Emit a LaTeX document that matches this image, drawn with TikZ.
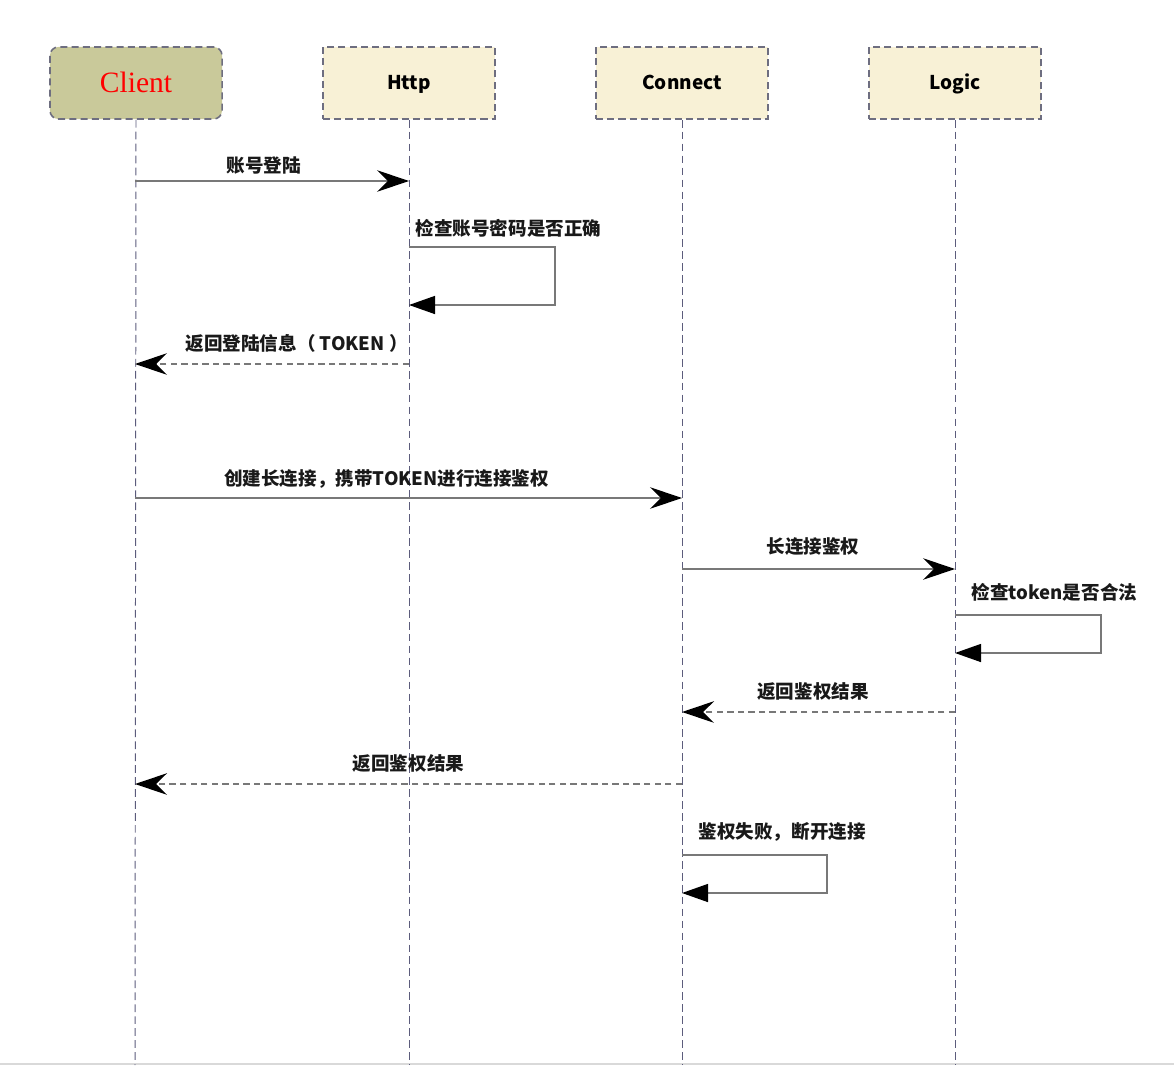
\documentclass[tikz,border=0pt]{standalone}
\usepackage{fontspec}
\setmainfont{Noto Sans CJK SC}
\newfontfamily\clientfont{Liberation Serif}
\usepackage{tikz}
\usetikzlibrary{arrows.meta,positioning,calc}
\definecolor{boxline}{HTML}{6E6E80}
\definecolor{lifeline}{HTML}{5C5C7C}
\definecolor{msgline}{HTML}{787878}
\definecolor{clientfill}{HTML}{C9C99A}
\definecolor{partfill}{HTML}{F8F1D6}
\tikzset{
part/.style={rectangle,draw=boxline,fill=partfill,dashed,dash pattern=on 5pt off 3pt,
  line width=1.1pt,minimum width=4.3cm,minimum height=1.8cm,
  text height=1.17em,text depth=0.2em,
  font=\fontsize{13.5}{16}\selectfont\bfseries},
clientbox/.style={part,fill=clientfill,rounded corners=6pt,text=red,
  text height=14pt,text depth=0pt,
  font=\fontsize{21}{24}\clientfont},
life/.style={draw=lifeline,line width=0.7pt,dash pattern=on 5.5pt off 3pt},
msg/.style={draw=msgline,line width=1pt,
  -{Stealth[length=0.8cm,width=0.54cm,inset=0.27cm,black]}},
reply/.style={msg,dash pattern=on 4.5pt off 3pt},
selfmsg/.style={draw=msgline,line width=1pt,
  -{Triangle[length=0.65cm,width=0.45cm,black]}},
lbl/.style={font=\fontsize{13.2}{15}\selectfont\bfseries,text=black!90,inner sep=1pt},
}
\begin{document}
\begin{tikzpicture}[x=0.025cm,y=-0.025cm]
\useasboundingbox (0,0) rectangle (1174,1072);
\draw[black!15,line width=2pt] (0,1064) -- (1174,1064);

% participants
\node[clientbox] (client) at (136,83) {Client};
\node[part] (http) at (409,83) {Http};
\node[part] (connect) at (682,83) {Connect};
\node[part] (logic) at (955,83) {Logic};

% lifelines
\coordinate (clientend) at (135,1065);
\coordinate (httpend) at (409,1065);
\coordinate (connectend) at (682,1065);
\coordinate (logicend) at (955,1065);
\draw[life] (client.south) -- (clientend);
\draw[life] (http.south) -- (httpend);
\draw[life] (connect.south) -- (connectend);
\draw[life] (logic.south) -- (logicend);

% message points
\coordinate (m1a) at (135,181);  \coordinate (m1b) at (409,181);
\coordinate (s1a) at (409,247);  \coordinate (s1b) at (555,305);  \coordinate (s1c) at (409,305);
\coordinate (m3a) at (409,364);  \coordinate (m3b) at (135,364);
\coordinate (m4a) at (135,498);  \coordinate (m4b) at (682,498);
\coordinate (m5a) at (682,569);  \coordinate (m5b) at (955,569);
\coordinate (s2a) at (955,615);  \coordinate (s2b) at (1101,653); \coordinate (s2c) at (955,653);
\coordinate (m7a) at (955,712);  \coordinate (m7b) at (682,712);
\coordinate (m8a) at (682,784);  \coordinate (m8b) at (135,784);
\coordinate (s3a) at (682,855);  \coordinate (s3b) at (827,893);  \coordinate (s3c) at (682,893);

\draw[msg] (m1a) -- node[lbl,above=3pt,pos=0.47] {账号登陆} (m1b);
\draw[selfmsg] (s1a) -| (s1b) -- (s1c);
\node[lbl,anchor=south west] (t1) at ($(s1a)+(5,-8)$) {检查账号密码是否正确};
\draw[reply] (m3a) -- node[lbl,above=7pt,pos=0.41] {返回登陆信息（ TOKEN ）} (m3b);
\draw[msg] (m4a) -- node[lbl,above=5pt,pos=0.46] {创建长连接，携带TOKEN进行连接鉴权} (m4b);
\draw[msg] (m5a) -- node[lbl,above=8pt,pos=0.48] {长连接鉴权} (m5b);
\draw[selfmsg] (s2a) -| (s2b) -- (s2c);
\node[lbl,anchor=south west] (t2) at ($(s2a)+(15,-12)$) {检查token是否合法};
\draw[reply] (m7a) -- node[lbl,above=7pt,pos=0.52] {返回鉴权结果} (m7b);
\draw[reply] (m8a) -- node[lbl,above=7pt,pos=0.5] {返回鉴权结果} (m8b);
\draw[selfmsg] (s3a) -| (s3b) -- (s3c);
\node[lbl,anchor=south west] (t3) at ($(s3a)+(15,-12)$) {鉴权失败，断开连接};
\end{tikzpicture}
\end{document}
